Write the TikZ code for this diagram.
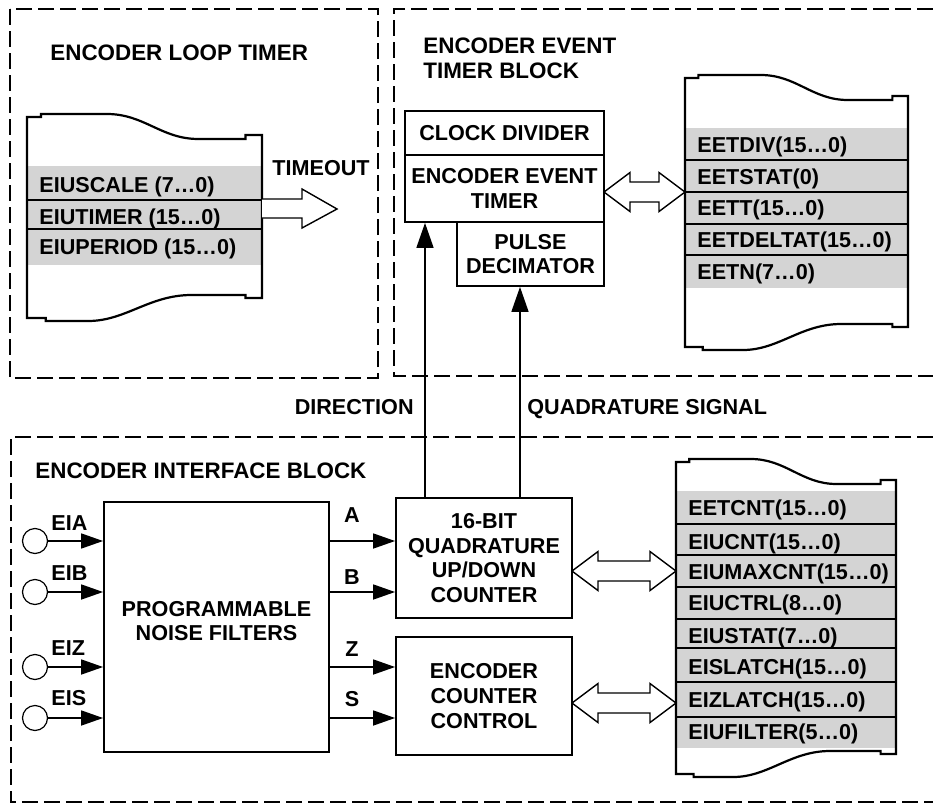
\documentclass[tikz,border=0pt]{standalone}
\usepackage{fontspec}
\setmainfont{Liberation Sans}
\usetikzlibrary{positioning, arrows.meta, calc}

\begin{document}
\begin{tikzpicture}[
    x=0.5pt, y=-0.5pt,
    >={Triangle[length=11pt,width=7.5pt]},
    font=\bfseries\fontsize{10.8}{12.3}\selectfont,
    blockbox/.style={
        rectangle, draw=black, line width=0.9pt, fill=white,
        inner sep=0pt, align=center
    },
    dashblk/.style={draw=black, line width=0.9pt, dash pattern=on 8pt off 3pt},
    scrollline/.style={draw=black, line width=1.1pt, line join=miter},
    regfill/.style={fill=black!17},
    regsep/.style={draw=black, line width=0.8pt},
    regtxt/.style={anchor=west, inner sep=0pt, text height=7.7pt, text depth=0pt},
    lbltxt/.style={inner sep=0pt, text height=7.7pt, text depth=0pt},
    titletxt/.style={inner sep=0pt, font=\bfseries\fontsize{11.2}{12.6}\selectfont},
    sigarr/.style={->, line width=0.8pt},
    uparr/.style={-{Triangle[length=12.5pt,width=8.5pt]}, line width=0.8pt},
    hollowarr/.style={draw=black, line width=0.7pt, fill=white, line join=miter},
    inport/.style={circle, draw=black, line width=0.6pt, minimum size=12.5pt, inner sep=0pt},
]

\useasboundingbox (0,0) rectangle (933,804);

% ---- Dashed block outlines ----
\draw[dashblk] (10,9) rectangle (378,378);
\draw[dashblk] (933,9) -- (394,9) -- (394,376) -- (933,376);
\draw[dashblk] (933,437) -- (11,437) -- (11,802) -- (933,802);

% ---- Block titles ----
\node[titletxt, text height=8pt, text depth=0pt, anchor=west] (looptitle) at (50,52) {ENCODER LOOP TIMER};
\node[titletxt, anchor=north west, align=left] (eettitle) at (423,37) {ENCODER EVENT\\TIMER BLOCK};
\node[titletxt, text height=8pt, text depth=0pt, anchor=west] (eititle) at (35,470) {ENCODER INTERFACE BLOCK};

% ---- Loop timer registers ----
\fill[regfill] (27,166) rectangle (262,265);
\draw[regsep] (27,200) -- (262,200) (27,229) -- (262,229);
\foreach \n/\txt/\y in {1/EIUSCALE (7…0)/185, 2/EIUTIMER (15…0)/217, 3/EIUPERIOD (15…0)/247}
    \node[regtxt] (elt\n) at (39,\y) {\txt};

% ---- Event timer registers ----
\fill[regfill] (685,128) rectangle (908,288);
\foreach \y in {160,192,224,255}
    \draw[regsep] (685,\y) -- (908,\y);
\foreach \n/\txt/\y in {1/EETDIV(15…0)/145, 2/EETSTAT(0)/177, 3/EETT(15…0)/208,
                        4/EETDELTAT(15…0)/240, 5/EETN(7…0)/272}
    \node[regtxt] (eet\n) at (697,\y) {\txt};

% ---- Interface registers ----
\fill[regfill] (676,491) rectangle (896,748);
\foreach \y in {524,555,587,619,648,682,717}
    \draw[regsep] (676,\y) -- (896,\y);
\foreach \n/\txt/\y in {1/EETCNT(15…0)/508, 2/EIUCNT(15…0)/542, 3/EIUMAXCNT(15…0)/572,
                        4/EIUCTRL(8…0)/603, 5/EIUSTAT(7…0)/636, 6/EISLATCH(15…0)/667,
                        7/EIZLATCH(15…0)/700, 8/EIUFILTER(5…0)/732}
    \node[regtxt] (eir\n) at (688,\y) {\txt};

% ---- Scroll outlines ----
\foreach \xl/\xr/\yt/\yb in {27/262/117/321, 685/908/78/350, 676/896/462/777} {
    \pgfmathsetmacro{\W}{\xr-\xl}
    \draw[scrollline] (\xl,\yt) -- ({\xl+0.06*\W},\yt) -- ({\xl+0.06*\W},{\yt-3})
        -- ({\xl+0.34*\W},{\yt-3})
        .. controls ({\xl+0.5*\W},{\yt-3}) and ({\xl+0.57*\W},{\yt+22}) .. ({\xl+0.73*\W},{\yt+22})
        -- ({\xl+0.93*\W},{\yt+22}) -- ({\xl+0.93*\W},{\yt+18}) -- (\xr,{\yt+18})
        -- (\xr,{\yb-23}) -- ({\xl+0.93*\W},{\yb-23}) -- ({\xl+0.93*\W},{\yb-26})
        -- ({\xl+0.7*\W},{\yb-26})
        .. controls ({\xl+0.52*\W},{\yb-26}) and ({\xl+0.42*\W},\yb) .. ({\xl+0.26*\W},\yb)
        -- ({\xl+0.08*\W},\yb) -- ({\xl+0.08*\W},{\yb-3}) -- (\xl,{\yb-3}) -- cycle;
}

% ---- Timeout arrow ----
\draw[hollowarr] (262,199) -- (302,199) -- (302,189) -- (337,209) -- (302,228) -- (302,218) -- (262,218);
\node[lbltxt, anchor=west] (timeout) at (272,168) {TIMEOUT};

% ---- Event timer blocks ----
\node[blockbox, minimum width=99.5pt, minimum height=22pt] (clkdiv) at (504.5,133) {CLOCK DIVIDER};
\node[blockbox, minimum width=99.5pt, minimum height=33.5pt] (eetimer) at (504.5,188.5) {ENCODER EVENT\\TIMER};
\node[blockbox, minimum width=73.5pt, minimum height=32pt] (pulsedec) at (530.5,254) {PULSE\\DECIMATOR};

% ---- Interface blocks ----
\node[blockbox, minimum width=112.5pt, minimum height=125pt] (noise) at (216.5,627) {PROGRAMMABLE\\NOISE FILTERS\\[-6.3pt]};
\node[blockbox, minimum width=88pt, minimum height=60pt] (quadcnt) at (484,558) {16-BIT\\QUADRATURE\\UP/DOWN\\COUNTER};
\node[blockbox, minimum width=88pt, minimum height=59pt] (cntctrl) at (484,696) {ENCODER\\COUNTER\\CONTROL};

% ---- Bus arrows to registers ----
\foreach \xa/\xb/\yc in {604/685/192, 572/676/571, 572/676/703}
    \draw[hollowarr] (\xa,\yc) -- ({\xa+26},{\yc-19.5}) -- ({\xa+26},{\yc-10}) -- ({\xb-26},{\yc-10})
        -- ({\xb-26},{\yc-19.5}) -- (\xb,\yc) -- ({\xb-26},{\yc+19.5}) -- ({\xb-26},{\yc+10})
        -- ({\xa+26},{\yc+10}) -- ({\xa+26},{\yc+19.5}) -- cycle;

% ---- Encoder inputs ----
\foreach \n/\y/\ly in {A/541/523, B/592/573, Z/667/648, S/718/698} {
    \node[inport] (in\n) at (35,\y) {};
    \node[lbltxt, anchor=west] (inlbl\n) at (51,\ly) {EI\n};
    \draw[sigarr] (in\n) -- (in\n -| noise.west);
}

% ---- Filtered signals ----
\foreach \n/\y/\ly/\tgt in {A/541/515/quadcnt, B/592/577/quadcnt, Z/667/649/cntctrl, S/718/699/cntctrl} {
    \coordinate (out\n) at (noise.east |- 0,\y);
    \draw[sigarr] (out\n) -- (out\n -| \tgt.west);
    \node[lbltxt] (outlbl\n) at (352,\ly) {\n};
}

% ---- Direction / quadrature to event timer ----
\coordinate (dirx) at (425,0);
\coordinate (quadx) at (520,0);
\draw[uparr] (quadcnt.north -| dirx) -- (eetimer.south -| dirx);
\draw[uparr] (quadcnt.north -| quadx) -- (pulsedec.south -| quadx);
\node[lbltxt, anchor=east] (dirlbl) at (414,407) {DIRECTION};
\node[lbltxt, anchor=west] (quadlbl) at (527,407) {QUADRATURE SIGNAL};

\end{tikzpicture}
\end{document}
